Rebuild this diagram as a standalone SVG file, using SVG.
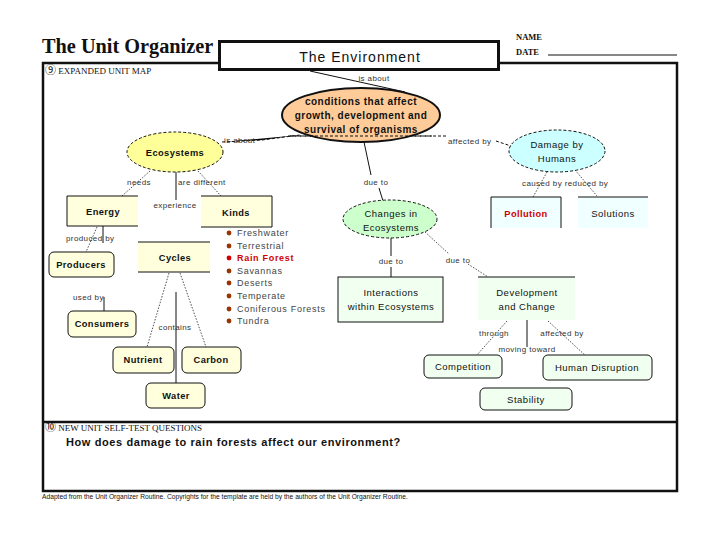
<svg xmlns="http://www.w3.org/2000/svg" width="720" height="540" viewBox="0 0 720 540">
<defs>
<style>
text{font-family:"Liberation Sans",Arial,sans-serif;}
.nb{font-size:9.3px;font-weight:bold;letter-spacing:0.4px;text-anchor:middle;fill:#111;}
.nr{font-size:9.5px;letter-spacing:0.5px;text-anchor:middle;fill:#111;}
.cb{font-size:10px;font-weight:bold;letter-spacing:0.5px;text-anchor:middle;fill:#111;}
.lb{font-size:8px;letter-spacing:0.4px;fill:#333;}
.li{font-size:9px;letter-spacing:0.7px;fill:#444;}
.sf{font-family:"Liberation Serif","Times New Roman","Noto Sans CJK JP",serif;}
.dot{stroke:#222;stroke-width:0.8;stroke-dasharray:1.5 1.5;fill:none;}
.sol{stroke:#111;stroke-width:1;fill:none;}
.edge{stroke:#111;stroke-width:1;fill:none;}
.dash{stroke:#111;stroke-width:1;stroke-dasharray:3 2;}
.yel{fill:#FFFFDD;}
.grn{fill:#F0FFF0;}
.cyn{fill:#F0FFFF;}
.rb{fill:#FFFFDD;stroke:#111;stroke-width:1;}
.rg{fill:#F0FFF0;stroke:#111;stroke-width:1;}
.bul{fill:#993300;}
.red{fill:#D00000;}
</style>
</defs>
<rect width="720" height="540" fill="#fff"/>

<!-- header -->
<text x="42" y="53" class="sf" font-size="20.3" font-weight="bold" fill="#111">The Unit Organizer</text>
<text x="516" y="40" class="sf" font-size="8.5" font-weight="bold" fill="#111">NAME</text>
<text x="516" y="55" class="sf" font-size="8.5" font-weight="bold" fill="#111">DATE</text>
<line x1="548" y1="55" x2="677" y2="55" stroke="#111" stroke-width="1"/>

<!-- frames -->
<g id="frame" fill="none" stroke="#111" stroke-width="2.5">
<rect x="43" y="63" width="634" height="428"/>
<line x1="43" y1="422" x2="677" y2="422"/>
</g>
<text x="45" y="74" class="sf" font-size="9" fill="#111"><tspan font-size="11">⑨</tspan> EXPANDED UNIT MAP</text>
<text x="45" y="431" class="sf" font-size="9" fill="#111"><tspan font-size="11">⑩</tspan> NEW UNIT SELF-TEST QUESTIONS</text>
<text x="66" y="446" font-size="11" font-weight="bold" letter-spacing="0.6" fill="#111">How does damage to rain forests affect our environment?</text>
<text x="42" y="499" font-size="6.7" fill="#111">Adapted from the Unit Organizer Routine.  Copyrights for the template are held by the authors of the Unit Organizer Routine.</text>

<g id="title">
<rect x="219.5" y="41.5" width="279" height="28" fill="#fff" stroke="#111" stroke-width="3"/>
<text x="360" y="62" font-size="14" letter-spacing="1" text-anchor="middle" fill="#111">The Environment</text>
</g>

<!-- connectors -->
<g id="connectors">
<line class="sol" x1="310" y1="71" x2="405" y2="92"/>
<text class="lb" x="374" y="81" text-anchor="middle" font-size="7">is about</text>

<path class="dash" d="M222,142 L262,140 L300,135"/>
<text class="lb" x="224" y="143">is about</text>
<line class="dash" x1="288" y1="136" x2="446" y2="136"/>
<text class="lb" x="448" y="144">affected by</text>
<line class="dash" x1="496" y1="141" x2="511" y2="146"/>

<line class="sol" x1="364" y1="142" x2="371" y2="175"/>
<text class="lb" x="376" y="185" text-anchor="middle">due to</text>
<line class="sol" x1="379" y1="188" x2="383" y2="201"/>

<line class="sol" x1="391" y1="238" x2="391" y2="256"/>
<text class="lb" x="391" y="264" text-anchor="middle">due to</text>
<line class="sol" x1="391" y1="267" x2="391" y2="277"/>

<line class="dot" x1="425" y1="232" x2="449" y2="254"/>
<text class="lb" x="458" y="263" text-anchor="middle">due to</text>
<line class="dot" x1="468" y1="264" x2="488" y2="277"/>

<line class="dot" x1="507" y1="321" x2="477" y2="355"/>
<text class="lb" x="494" y="336" text-anchor="middle">through</text>
<line class="sol" x1="527" y1="320" x2="527" y2="347"/>
<text class="lb" x="527" y="352" text-anchor="middle">moving  toward</text>
<line class="dot" x1="548" y1="321" x2="587" y2="357"/>
<text class="lb" x="562" y="336" text-anchor="middle">affected by</text>

<line class="dot" x1="547" y1="172" x2="533" y2="197"/>
<line class="dot" x1="575" y1="170" x2="597" y2="196"/>
<text class="lb" x="522" y="186">caused by reduced by</text>

<line class="dot" x1="150" y1="171" x2="122" y2="196"/>
<text class="lb" x="139" y="185" text-anchor="middle">needs</text>
<line class="dot" x1="198" y1="171" x2="222" y2="197"/>
<text class="lb" x="178" y="185">are different</text>
<line class="sol" x1="176" y1="172" x2="176" y2="200"/>
<text class="lb" x="175" y="208" text-anchor="middle">experience</text>

<line class="sol" x1="103" y1="226" x2="103" y2="243"/>
<line class="dot" x1="97" y1="227" x2="86" y2="252"/>
<text class="lb" x="66" y="241">produced by</text>

<text class="lb" x="73" y="300">used by</text>
<line class="sol" x1="104" y1="297" x2="104" y2="311"/>

<line class="dot" x1="169" y1="273" x2="147" y2="347"/>
<line class="dot" x1="180" y1="273" x2="206" y2="347"/>
<line class="sol" x1="176" y1="292" x2="176" y2="383"/>
<text class="lb" x="175" y="330" text-anchor="middle">contains</text>
</g>

<!-- nodes -->
<g id="n-center">
<ellipse cx="361" cy="115" rx="79" ry="27" fill="#FFCC99" stroke="#111" stroke-width="2"/>
<line class="dash" x1="290" y1="136" x2="432" y2="136"/>
<text class="cb" x="361" y="105">conditions that affect</text>
<text class="cb" x="361" y="119">growth, development and</text>
<text class="cb" x="361" y="133">survival of organisms</text>
</g>

<g id="n-ecosystems">
<ellipse cx="175" cy="152" rx="48" ry="20" fill="#FFFF99" class="dash"/>
<text class="nb" x="175" y="156">Ecosystems</text>
</g>

<g id="n-damage">
<ellipse cx="557" cy="151" rx="48" ry="21" fill="#CCFFFF" class="dash"/>
<text class="nr" x="557" y="148">Damage by</text>
<text class="nr" x="557" y="162">Humans</text>
</g>

<g id="n-changes">
<ellipse cx="390" cy="219" rx="47" ry="19" fill="#CCFFCC" class="dash"/>
<text class="nr" x="391" y="217">Changes in</text>
<text class="nr" x="391" y="231">Ecosystems</text>
</g>

<g id="n-energy">
<rect class="yel" x="67" y="196" width="71" height="30"/>
<path class="edge" d="M138,196 H67 V226 H138"/>
<text class="nb" x="103" y="215">Energy</text>
</g>

<g id="n-kinds">
<rect class="yel" x="201" y="196" width="71" height="31"/>
<path class="edge" d="M201,196 H272 V227 H201"/>
<text class="nb" x="236" y="216">Kinds</text>
</g>

<g id="n-list">
<circle class="bul" cx="229" cy="233" r="2.4"/><text class="li" x="237" y="236">Freshwater</text>
<circle class="bul" cx="229" cy="246" r="2.4"/><text class="li" x="237" y="249">Terrestrial</text>
<circle class="red" cx="229" cy="258" r="2.4"/><text class="li red" x="237" y="261" font-weight="bold" letter-spacing="0.4">Rain Forest</text>
<circle class="bul" cx="229" cy="271" r="2.4"/><text class="li" x="237" y="274">Savannas</text>
<circle class="bul" cx="229" cy="283" r="2.4"/><text class="li" x="237" y="286">Deserts</text>
<circle class="bul" cx="229" cy="296" r="2.4"/><text class="li" x="237" y="299">Temperate</text>
<circle class="bul" cx="229" cy="309" r="2.4"/><text class="li" x="237" y="312">Coniferous Forests</text>
<circle class="bul" cx="229" cy="321" r="2.4"/><text class="li" x="237" y="324">Tundra</text>
</g>

<g id="n-cycles">
<rect class="yel" x="138" y="242" width="72" height="30"/>
<path class="edge" d="M138,242 H210 M138,272 H210"/>
<text class="nb" x="175" y="261">Cycles</text>
</g>

<g id="n-producers">
<rect class="rb" x="49" y="252" width="65" height="25" rx="5"/>
<text class="nb" x="81" y="268">Producers</text>
</g>

<g id="n-consumers">
<rect class="rb" x="68" y="311" width="68" height="26" rx="5"/>
<text class="nb" x="102" y="327">Consumers</text>
</g>

<g id="n-nutrient">
<rect class="rb" x="113" y="347" width="61" height="26" rx="5"/>
<text class="nb" x="143" y="363">Nutrient</text>
</g>

<g id="n-carbon">
<rect class="rb" x="182" y="347" width="59" height="26" rx="5"/>
<text class="nb" x="211" y="363">Carbon</text>
</g>

<g id="n-water">
<rect class="rb" x="146" y="383" width="59" height="25" rx="5"/>
<text class="nb" x="176" y="399">Water</text>
</g>

<g id="n-pollution">
<rect class="cyn" x="491" y="197" width="70" height="31"/>
<path class="edge" d="M491,228 V197 H561 V228"/>
<text class="nb red" x="526" y="217">Pollution</text>
</g>

<g id="n-solutions">
<rect class="cyn" x="578" y="197" width="70" height="31"/>
<line class="edge" x1="578" y1="197" x2="648" y2="197"/>
<text class="nr" x="613" y="217">Solutions</text>
</g>

<g id="n-interactions">
<rect class="grn" x="338" y="277" width="105" height="45" stroke="#111" stroke-width="1"/>
<text class="nr" x="391" y="296">Interactions</text>
<text class="nr" x="391" y="310">within Ecosystems</text>
</g>

<g id="n-development">
<rect class="grn" x="478" y="277" width="97" height="43"/>
<line class="edge" x1="478" y1="277" x2="575" y2="277"/>
<text class="nr" x="527" y="296">Development</text>
<text class="nr" x="527" y="310">and Change</text>
</g>

<g id="n-competition">
<rect class="rg" x="424" y="355" width="78" height="23" rx="5"/>
<text class="nr" x="463" y="370">Competition</text>
</g>

<g id="n-human">
<rect class="rg" x="543" y="355" width="109" height="25" rx="5"/>
<text class="nr" x="597" y="371">Human Disruption</text>
</g>

<g id="n-stability">
<rect class="rg" x="480" y="388" width="92" height="22" rx="5"/>
<text class="nr" x="526" y="403">Stability</text>
</g>
</svg>
